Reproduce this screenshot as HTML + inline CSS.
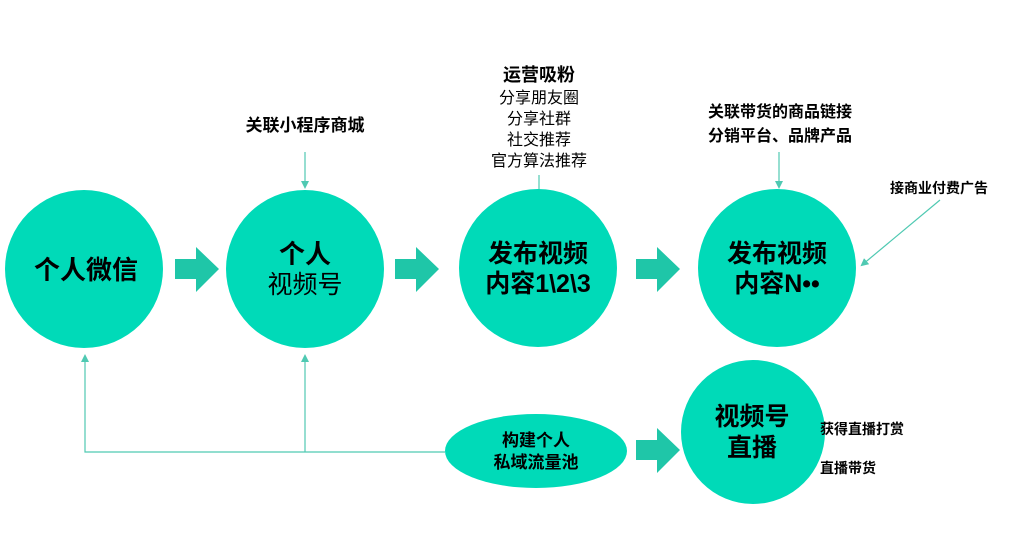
<!DOCTYPE html>
<html><head><meta charset="utf-8"><style>
body{margin:0;background:#fff;}
svg text{font-family:"Liberation Sans","Noto Sans CJK SC",sans-serif;fill:#000;}
</style></head><body>
<svg width="1014" height="536" viewBox="0 0 1014 536" xmlns="http://www.w3.org/2000/svg">
<defs>
<marker id="ah" markerWidth="8" markerHeight="8" refX="6" refY="4" orient="auto" markerUnits="userSpaceOnUse">
<path d="M0,0 L8,4 L0,8 z" fill="#4fc9b2"/></marker>
</defs>
<g stroke="#4fc9b2" stroke-width="1.2" fill="none">
<polyline points="445,452 85,452 85,356" marker-end="url(#ah)"/>
<line x1="305" y1="452" x2="305" y2="356" marker-end="url(#ah)"/>
<line x1="305" y1="152" x2="305" y2="187" marker-end="url(#ah)"/>
<line x1="539" y1="175" x2="539" y2="199" marker-end="url(#ah)"/>
<line x1="779" y1="152" x2="779" y2="187" marker-end="url(#ah)"/>
<line x1="940" y1="200" x2="862" y2="265" marker-end="url(#ah)"/>
</g>
<g fill="#00dab8">
<circle cx="84" cy="269" r="79"/>
<circle cx="305" cy="269" r="79"/>
<circle cx="538" cy="268" r="79"/>
<circle cx="777" cy="268" r="79"/>
<circle cx="753" cy="432" r="72"/>
<ellipse cx="536" cy="451" rx="91" ry="37"/>
</g>
<g fill="#1fc6a8">
<path d="M175,259 H196 V247 L219,269 L196,292 V279 H175 z"/>
<path d="M395,259 H416 V247 L439,269 L416,292 V279 H395 z"/>
<path d="M636,259 H657 V247 L680,269 L657,292 V279 H636 z"/>
<path d="M636,440 H657 V428 L680,450 L657,473 V460 H636 z"/>
</g>
<g text-anchor="middle" font-weight="bold">
<text x="86" y="279" font-size="26">个人微信</text>
<text x="305" y="263" font-size="26">个人</text>
<text x="305" y="293" font-size="25" font-weight="normal">视频号</text>
<text x="538" y="262" font-size="25">发布视频</text>
<text x="538" y="292" font-size="25">内容1\2\3</text>
<text x="777" y="262" font-size="25">发布视频</text>
<text x="777" y="292" font-size="25">内容N••</text>
<text x="752" y="425" font-size="25">视频号</text>
<text x="752" y="456" font-size="25">直播</text>
<text x="536" y="446" font-size="17">构建个人</text>
<text x="536" y="468" font-size="17">私域流量池</text>
<text x="305" y="131" font-size="17">关联小程序商城</text>
<text x="539" y="81" font-size="18">运营吸粉</text>
<text x="780" y="117" font-size="16">关联带货的商品链接</text>
<text x="780" y="141" font-size="16">分销平台、品牌产品</text>
<text x="939" y="193" font-size="14">接商业付费广告</text>
</g>
<g text-anchor="middle" font-size="16">
<text x="539" y="103">分享朋友圈</text>
<text x="539" y="124">分享社群</text>
<text x="539" y="145">社交推荐</text>
<text x="539" y="166">官方算法推荐</text>
</g>
<g font-weight="bold" font-size="14">
<text x="820" y="434">获得直播打赏</text>
<text x="820" y="473">直播带货</text>
</g>
</svg>
</body></html>
